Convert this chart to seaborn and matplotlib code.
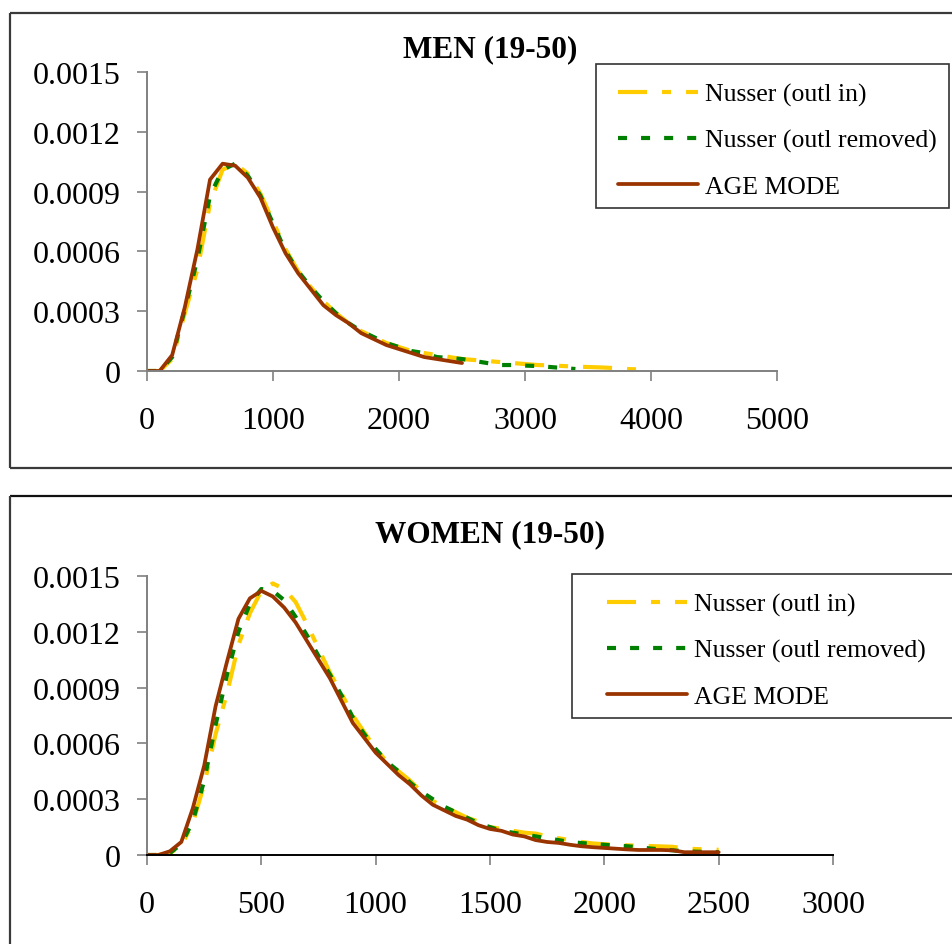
import matplotlib
matplotlib.use("Agg")
import matplotlib.pyplot as plt
import seaborn as sns
import pandas as pd
from matplotlib.lines import Line2D
from matplotlib.patches import Rectangle

sns.set_theme(style="white")
plt.rcParams['font.family'] = ['Liberation Serif', 'DejaVu Serif']
plt.rcParams['lines.scale_dashes'] = False
plt.rcParams['text.color'] = 'black'

# ---- series definitions ----
series_labels = ["Nusser (outl in)", "Nusser (outl removed)", "AGE MODE"]
series_colors = ["#FFCC00", "#008000", "#993300"]
series_styles = [(0, (20.9, 10.8, 6.5, 10.8)), (0, (6.5, 10.1)), "-"]
series_widths = [3.0, 3.0, 2.7]

y_tick_values = [0, 0.0003, 0.0006, 0.0009, 0.0012, 0.0015]
y_tick_labels = ["0", "0.0003", "0.0006", "0.0009", "0.0012", "0.0015"]

# ---- MEN (19-50) ----
men_title = "MEN (19-50)"
men_x_ticks = [0, 1000, 2000, 3000, 4000, 5000]
men_x_in = list(range(0, 4001, 100))
men_in = [0, 0, 0.00006, 0.00029, 0.00051, 0.00084, 0.00101, 0.00104, 0.00099, 0.00089, 0.00075,
          0.00061, 0.0005, 0.00042, 0.00035, 0.00029, 0.00024, 0.0002, 0.00017, 0.00014, 0.00012,
          0.0001, 0.00009, 0.00008, 0.00007, 0.00006, 0.000055, 0.00005, 0.000045, 0.00004, 0.000035,
          0.00003, 0.000028, 0.000025, 0.000022, 0.00002, 0.000018, 0.000015, 0.00001, 0.000008, 0.000005]
men_x_removed = list(range(0, 3401, 100))
men_removed = [0, 0, 0.00007, 0.00031, 0.00056, 0.00088, 0.00101, 0.00104, 0.00098, 0.00088, 0.00074,
               0.0006, 0.0005, 0.00042, 0.00035, 0.00029, 0.00024, 0.0002, 0.00017, 0.00014, 0.00012,
               0.0001, 0.00009, 0.00007, 0.000065, 0.00006, 0.00005, 0.00004, 0.00003, 0.00003, 0.000027,
               0.000025, 0.00002, 0.000015, 0.00001]
men_x_age = list(range(0, 2501, 100))
men_age = [0, 0, 0.00008, 0.00032, 0.00061, 0.00096, 0.00104, 0.00103, 0.00097, 0.00087, 0.00072,
           0.00059, 0.00049, 0.00041, 0.00033, 0.00028, 0.00024, 0.00019, 0.00016, 0.00013, 0.00011,
           0.00009, 0.00007, 0.00006, 0.00005, 0.00004]

# ---- WOMEN (19-50) ----
women_title = "WOMEN (19-50)"
women_x_ticks = [0, 500, 1000, 1500, 2000, 2500, 3000]
women_x = list(range(0, 2501, 50))
women_in = [0, 0, 0.00001, 0.00005, 0.00017, 0.00038, 0.00065, 0.00087, 0.00113, 0.0013, 0.00142,
            0.00146, 0.00143, 0.00136, 0.00124, 0.00111, 0.00098, 0.00087, 0.00075, 0.00066, 0.00057,
            0.0005, 0.00045, 0.0004, 0.00034, 0.00029, 0.00026, 0.00023, 0.0002, 0.00018, 0.00015,
            0.00014, 0.00013, 0.00012, 0.000115, 0.0001, 0.00009, 0.00008, 0.00007, 0.000062, 0.000058,
            0.000055, 0.000052, 0.00005, 0.000048, 0.000046, 0.000044, 0.000035, 0.000032, 0.00003, 0.000028]
women_removed = [0, 0, 0.00001, 0.00006, 0.00018, 0.0004, 0.0007, 0.00097, 0.0012, 0.00135, 0.00143,
                 0.00142, 0.00137, 0.00128, 0.00118, 0.00107, 0.00097, 0.00086, 0.00074, 0.00065, 0.00057,
                 0.0005, 0.00045, 0.00039, 0.00034, 0.0003, 0.00026, 0.00023, 0.0002, 0.00017, 0.00015,
                 0.00013, 0.00012, 0.00011, 0.0001, 0.00009, 0.00008, 0.00007, 0.000064, 0.00006, 0.000055,
                 0.00005, 0.000047, 0.000042, 0.000035, 0.00003, 0.000025, 0.00002, 0.000018, 0.000016, 0.000015]
women_age = [0, 0, 0.00002, 0.00007, 0.00025, 0.00048, 0.0008, 0.00104, 0.00127, 0.00138, 0.00142,
             0.00139, 0.00133, 0.00125, 0.00115, 0.00105, 0.00095, 0.00083, 0.00071, 0.00063, 0.00055,
             0.00049, 0.00043, 0.00038, 0.00032, 0.00027, 0.00024, 0.00021, 0.00019, 0.00016, 0.00014,
             0.00013, 0.00011, 0.0001, 0.00008, 0.00007, 0.000065, 0.000055, 0.000047, 0.000042, 0.000038,
             0.000034, 0.00003, 0.000027, 0.000027, 0.000027, 0.000025, 0.000015, 0.000015, 0.000015, 0.000015]

W, H = 953, 945
fig = plt.figure(figsize=(W / 100, H / 100), dpi=100)
fig.patch.set_facecolor("white")


def fx(px):
    return px / W


def fy(py):
    return 1 - py / H


def frame_line(x0, y0, x1, y1, color="#3a3a3a", lw=1.6):
    fig.add_artist(Line2D([fx(x0), fx(x1)], [fy(y0), fy(y1)], transform=fig.transFigure,
                          color=color, lw=lw, solid_capstyle="butt"))


# chart-area borders
frame_line(10, 14, W, 14)
frame_line(10, 14, 10, 469)
frame_line(10, 469, W, 469)
frame_line(10, 497, W, 497, color="#111111")
frame_line(10, 497, 10, H)


def draw_panel(rect_px, xs_list, ys_list, xmax, xticks, title, title_y,
               legend_box_px, legend_anchor_px, xspine_color):
    left, top, right, bottom = rect_px
    ax = fig.add_axes([fx(left), fy(bottom), fx(right) - fx(left), fy(top) - fy(bottom)])
    ax.set_facecolor("none")
    for xs, ys, lab, col, ls, lw in zip(xs_list, ys_list, series_labels, series_colors,
                                          series_styles, series_widths):
        df = pd.DataFrame({"x": xs, "y": ys})
        sns.lineplot(data=df, x="x", y="y", ax=ax, color=col, linewidth=lw,
                     linestyle=ls, label=lab, legend=False)
    ax.set_xlim(0, xmax)
    ax.set_ylim(0, 0.0015)
    ax.set_xticks(xticks)
    ax.set_xticklabels([str(t) for t in xticks])
    ax.set_yticks(y_tick_values)
    ax.set_yticklabels(y_tick_labels)
    ax.set_xlabel("")
    ax.set_ylabel("")
    for s in ("top", "right"):
        ax.spines[s].set_visible(False)
    ax.spines["left"].set_color("#808080")
    ax.spines["left"].set_linewidth(1.4)
    ax.spines["bottom"].set_color(xspine_color)
    ax.spines["bottom"].set_linewidth(1.4)
    ax.tick_params(axis="both", direction="out", length=7, width=1.2, color="#808080",
                   labelsize=23, labelcolor="black")
    ax.tick_params(axis="x", pad=18, bottom=True)
    ax.tick_params(axis="y", pad=12, left=True)

    fig.text(fx(490), fy(title_y), title, ha="center", va="center",
             fontsize=22.5, fontweight="bold", color="black")

    # legend box
    bx0, by0, bx1, by1 = legend_box_px
    fig.add_artist(Rectangle((fx(bx0), fy(by1)), fx(bx1) - fx(bx0), fy(by0) - fy(by1),
                             transform=fig.transFigure, facecolor="white",
                             edgecolor="#333333", linewidth=1.2, zorder=3))
    handles = ax.get_lines()[:3]
    leg = fig.legend(handles, series_labels, loc="upper left",
                     bbox_to_anchor=(fx(legend_anchor_px[0]), fy(legend_anchor_px[1])),
                     bbox_transform=fig.transFigure, borderaxespad=0, frameon=False,
                     fontsize=18.5, handlelength=3.1, handletextpad=0.3, borderpad=0,
                     labelspacing=0.88, labelcolor="black")
    leg.set_zorder(4)
    return ax


draw_panel((147, 73, 777, 372), [men_x_in, men_x_removed, men_x_age],
           [men_in, men_removed, men_age], 5000, men_x_ticks, men_title, 50,
           (596, 65, 949, 209), (618, 84), "#808080")
draw_panel((147, 577, 833, 856), [women_x, women_x, women_x],
           [women_in, women_removed, women_age], 3000, women_x_ticks, women_title, 535,
           (572, 575, 975, 719), (607, 594), "#000000")

fig.savefig("out.png", dpi=100, facecolor="white")
